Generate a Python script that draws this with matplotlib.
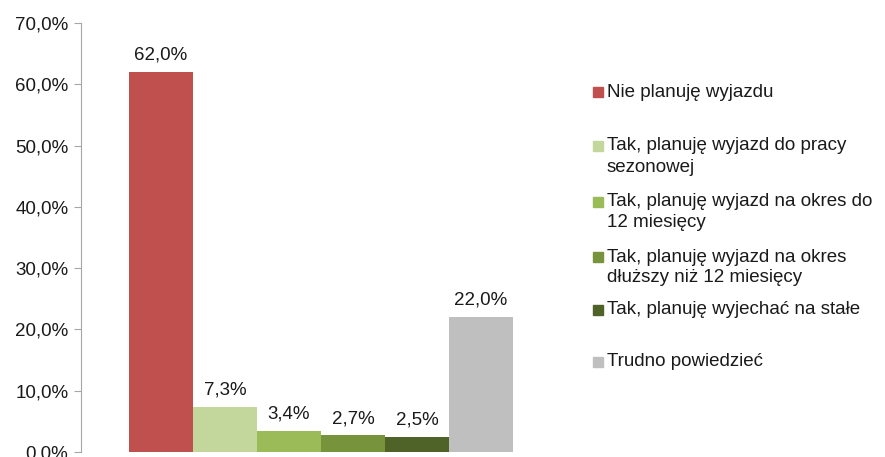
import matplotlib.pyplot as plt
from matplotlib.patches import Rectangle
from matplotlib.ticker import FuncFormatter

plt.rcParams['font.family'] = ['Liberation Sans', 'DejaVu Sans']

# Data
labels = ['Nie planuję wyjazdu',
          'Tak, planuję wyjazd do pracy\nsezonowej',
          'Tak, planuję wyjazd na okres do\n12 miesięcy',
          'Tak, planuję wyjazd na okres\ndłuższy niż 12 miesięcy',
          'Tak, planuję wyjechać na stałe',
          'Trudno powiedzieć']
values = [62.0, 7.3, 3.4, 2.7, 2.5, 22.0]
colors = ['#C0504D', '#C3D69B', '#9BBB59', '#77933C', '#4F6228', '#BFBFBF']
yticks = [0, 10, 20, 30, 40, 50, 60, 70]

W, H = 885, 457
fig = plt.figure(figsize=(W / 100, H / 100), dpi=100)
ax = fig.add_axes([81 / W, 5 / H, 480 / W, 429 / H])

x = list(range(len(values)))
bars = ax.bar(x, values, width=1.0, color=colors, edgecolor='none')
for xi, v in zip(x, values):
    ax.annotate(f"{v:.1f}%".replace('.', ','), (xi, v), xytext=(0, 6),
                textcoords='offset points', ha='center', va='bottom',
                fontsize=13.5, color='#1a1a1a')

ax.set_xlim(-1.25, len(values) + 0.25)
ax.set_ylim(0, 70)
ax.set_yticks(yticks)
ax.yaxis.set_major_formatter(FuncFormatter(lambda v, p: f"{v:.1f}%".replace('.', ',')))
ax.set_xticks([])
ax.tick_params(axis='y', direction='out', length=5, color='#A6A6A6',
               labelsize=13.5, labelcolor='#1a1a1a', pad=4)
for s in ['top', 'right', 'bottom']:
    ax.spines[s].set_visible(False)
ax.spines['left'].set_color('#A6A6A6')

# legend, drawn by hand to keep marker on first line
centers = [92, 146, 202, 257, 310, 362]
for lab, col, yc in zip(labels, colors, centers):
    fig.patches.append(Rectangle((593 / W, 1 - (yc + 5) / H), 10 / W, 10 / H,
                                 transform=fig.transFigure, color=col))
    for j, line in enumerate(lab.split('\n')):
        fig.text(607 / W, 1 - (yc + j * 21) / H, line, va='center', ha='left',
                 fontsize=13.5, color='#1a1a1a')

fig.savefig('out.png', dpi=100)
